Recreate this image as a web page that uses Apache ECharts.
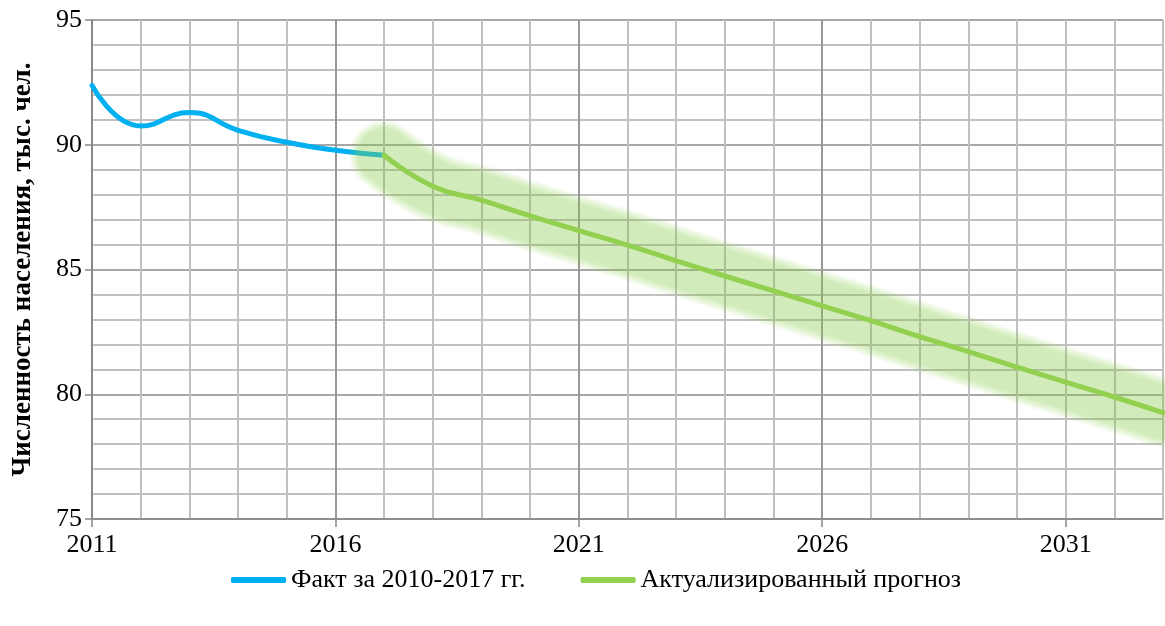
<!DOCTYPE html>
<html>
<head>
<meta charset="utf-8">
<script src="https://cdn.jsdelivr.net/npm/echarts@6/dist/echarts.min.js"></script>
<style>
html,body{margin:0;padding:0;background:#fff;}
#chart{width:1165px;height:626px;}
</style>
</head>
<body>
<div id="chart"></div>
<script>
var factYears = [2011, 2012, 2013, 2014, 2015, 2016, 2017];
var factValues = [92.38, 90.75, 91.29, 90.58, 90.1, 89.78, 89.58];
var forecastYears = [2017, 2018, 2019, 2020, 2021, 2022, 2023, 2024, 2025, 2026, 2027, 2028, 2029, 2030, 2031, 2032, 2033];
var forecastValues = [89.58, 88.34, 87.78, 87.15, 86.56, 85.98, 85.35, 84.74, 84.14, 83.54, 82.95, 82.31, 81.71, 81.09, 80.49, 79.89, 79.26];
var xTickLabels = [2011, 2016, 2021, 2026, 2031];
var yTickLabels = [75, 80, 85, 90, 95];
var factName = 'Факт за 2010-2017 гг.';
var forecastName = 'Актуализированный прогноз';
var yAxisName = 'Численность населения, тыс. чел.';

function pairs(xs, ys) { return xs.map(function (x, i) { return [x, ys[i]]; }); }

var font = 'Liberation Serif';
var glowWidths = [70, 68, 66, 64, 62, 60, 58, 56, 54, 52];
var glowSeries = glowWidths.map(function (w) {
  return {
    name: 'glow', type: 'line', xAxisIndex: 1, data: pairs(forecastYears, forecastValues),
    smooth: 0.5, showSymbol: false, symbol: 'none', silent: true, z: 4,
    lineStyle: {color: 'rgba(146,208,80,0.048)', width: w, cap: 'round', join: 'round'}
  };
});

var chart = echarts.init(document.getElementById('chart'), null, {renderer: 'canvas'});
chart.setOption({
  animation: false,
  backgroundColor: '#fff',
  grid: {left: 92, right: 2, top: 20, bottom: 107, containLabel: false},
  legend: {
    data: [factName, forecastName],
    left: 226, top: 562,
    icon: 'roundRect', itemWidth: 55, itemHeight: 6, itemGap: 55,
    textStyle: {fontFamily: font, fontSize: 26, color: '#000'}
  },
  xAxis: [{
    type: 'value', min: 2011, max: 2033, interval: 1, position: 'bottom',
    axisLine: {show: false}, axisTick: {show: false}, axisLabel: {show: false},
    splitLine: {show: true, lineStyle: {color: '#c0c0c0', width: 2}}
  }, {
    type: 'value', min: 2011, max: 2033, interval: 5, position: 'bottom',
    axisLine: {show: true, lineStyle: {color: '#868686', width: 1.5}},
    axisTick: {show: true, length: 8, customValues: xTickLabels, lineStyle: {color: '#868686', width: 1.5}},
    axisLabel: {show: true, customValues: xTickLabels, margin: 13, fontFamily: font, fontSize: 26, color: '#000',
      formatter: function (v) { return String(v); }},
    splitLine: {show: true, showMaxLine: false, lineStyle: {color: '#8a8a8a', width: 1.5}}
  }],
  yAxis: {
    type: 'value', min: 75, max: 95, interval: 5,
    name: yAxisName, nameLocation: 'middle', nameGap: 55,
    nameTextStyle: {fontFamily: font, fontSize: 27, fontWeight: 'bold', color: '#000'},
    axisLine: {show: true, lineStyle: {color: '#868686', width: 1.5}},
    axisTick: {show: true, length: 7, lineStyle: {color: '#868686', width: 1.5}},
    axisLabel: {margin: 10, fontFamily: font, fontSize: 26, color: '#000',
      formatter: function (v) { return String(v); }},
    splitLine: {show: true, lineStyle: {color: '#8a8a8a', width: 1.5}},
    minorTick: {show: false, splitNumber: 5},
    minorSplitLine: {show: true, lineStyle: {color: '#c0c0c0', width: 2}}
  },
  series: [{
    name: factName, type: 'line', xAxisIndex: 1, data: pairs(factYears, factValues),
    smooth: 0.5, showSymbol: false, symbol: 'none', z: 3,
    lineStyle: {color: '#00B0F0', width: 5, cap: 'round'},
    itemStyle: {color: '#00B0F0'}
  }].concat(glowSeries).concat([{
    name: forecastName, type: 'line', xAxisIndex: 1, data: pairs(forecastYears, forecastValues),
    smooth: 0.5, showSymbol: false, symbol: 'none', z: 5,
    lineStyle: {color: '#92D050', width: 5, cap: 'round'},
    itemStyle: {color: '#92D050'}
  }])
});
</script>
</body>
</html>
